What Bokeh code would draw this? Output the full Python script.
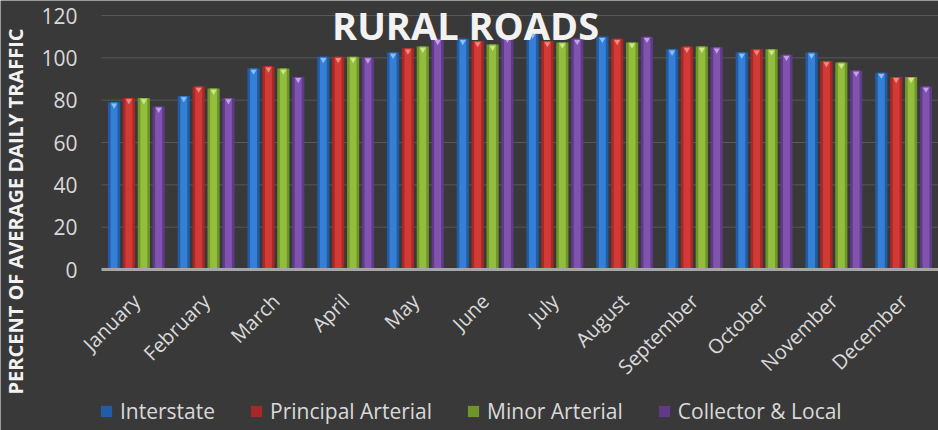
import math
from bokeh.plotting import figure
from bokeh.models import ColumnDataSource, Label, Legend, LegendItem, Range1d, FixedTicker
from bokeh.transform import dodge
from bokeh.embed import file_html
from bokeh.resources import INLINE

months = ["January", "February", "March", "April", "May", "June", "July",
          "August", "September", "October", "November", "December"]
series_names = ["Interstate", "Principal Arterial", "Minor Arterial", "Collector & Local"]
interstate = [79, 82, 95, 100.5, 102.5, 109, 112, 110, 104, 102.5, 102.5, 93]
principal_arterial = [81, 86.5, 96, 100.5, 104.5, 108, 108, 109, 105.3, 104, 98.5, 91]
minor_arterial = [81, 85.5, 95, 100.5, 105.3, 106.3, 107.3, 107.3, 105.3, 104, 97.8, 91]
collector_local = [77, 81, 91, 100.3, 109, 110, 109, 110, 105, 101.5, 94, 86.5]
y_ticks = [0, 20, 40, 60, 80, 100, 120]
month_pos = list(range(len(months)))

edge_colors = ["#235ca6", "#a82828", "#6f9428", "#5f3a88"]
main_colors = ["#3580d6", "#d23a36", "#93bd3c", "#8053ae"]
tip_colors = ["#8cc0f5", "#f08a84", "#cde88a", "#c3a0e8"]
offsets = [-0.32, -0.107, 0.107, 0.32]

src = ColumnDataSource(dict(pos=month_pos, s0=interstate, s1=principal_arterial,
                            s2=minor_arterial, s3=collector_local))
tips = {}
for i, arr in enumerate([interstate, principal_arterial, minor_arterial, collector_local]):
    tips[f"t{i}"] = [v - 1.4 for v in arr]
tip_src = ColumnDataSource(dict(pos=month_pos, **tips))

X_LO, X_HI = -0.5, len(months) - 0.5   # plot-area extent in month units
BG = "#393939"
p = figure(width=938, height=430, x_range=Range1d(-1.948, X_HI),
           y_range=Range1d(-76.06, 127.09), output_backend="svg", toolbar_location=None,
           min_border_left=0, min_border_right=0, min_border_top=0, min_border_bottom=0)
p.background_fill_color = BG
p.border_fill_color = BG
p.outline_line_color = None

# horizontal grid lines limited to the plot area
p.xgrid.visible = False
p.ygrid.visible = False
p.segment(x0=[X_LO] * len(y_ticks), x1=[X_HI] * len(y_ticks), y0=y_ticks, y1=y_ticks,
          line_color="#585858", line_width=1)

legend_items = []
for i in range(4):
    r = p.vbar(x=dodge("pos", offsets[i]), top=f"s{i}", width=0.175,
               source=src, fill_color=edge_colors[i], line_color=None)
    p.vbar(x=dodge("pos", offsets[i]), top=f"s{i}", width=0.10,
           source=src, fill_color=main_colors[i], line_color=None)
    p.scatter(x=dodge("pos", offsets[i]), y=f"t{i}", source=tip_src,
              marker="inverted_triangle", size=6, fill_color=tip_colors[i], line_color=None)
    legend_items.append(LegendItem(label=series_names[i], renderers=[r]))

# y axis
p.yaxis.fixed_location = X_LO
p.yaxis.ticker = FixedTicker(ticks=y_ticks)
p.yaxis.bounds = (0, 120)
p.yaxis.axis_line_color = None
p.yaxis.major_tick_line_color = None
p.yaxis.minor_tick_line_color = None
p.yaxis.major_label_text_font = "Open Sans"
p.yaxis.major_label_text_font_size = "21px"
p.yaxis.major_label_text_color = "#d9d9d9"
p.yaxis.major_label_standoff = 18

# x axis
p.xaxis.fixed_location = 0
p.xaxis.bounds = (X_LO, X_HI)
p.xaxis.ticker = FixedTicker(ticks=month_pos)
p.xaxis.major_label_overrides = {i: m for i, m in zip(month_pos, months)}
p.xaxis.axis_line_color = "#a6a6a6"
p.xaxis.axis_line_width = 3
p.xaxis.major_tick_line_color = None
p.xaxis.minor_tick_line_color = None
p.xaxis.major_label_orientation = math.pi / 4
p.xaxis.major_label_text_font = "Open Sans"
p.xaxis.major_label_text_font_size = "20px"
p.xaxis.major_label_text_color = "#d9d9d9"
p.xaxis.major_label_standoff = 22

legend = Legend(items=legend_items, orientation="horizontal", location=(99, 5),
                background_fill_alpha=0, border_line_color=None, padding=0, margin=0,
                glyph_width=14, glyph_height=14, label_standoff=7, spacing=34,
                label_text_font="Open Sans", label_text_font_size="21px",
                label_text_color="#d9d9d9")
p.add_layout(legend, "center")

title = Label(x=4.72, y=115.7, text="RURAL ROADS", text_font="Open Sans",
              text_font_size="38px", text_font_style="bold", text_color="#f2f2f2",
              text_align="center", text_baseline="alphabetic", level="overlay")
p.add_layout(title)

ylab = Label(x=-1.733, y=27.4, text="PERCENT OF AVERAGE DAILY TRAFFIC",
             text_font="Open Sans", text_font_size="20px", text_font_style="bold",
             text_color="#f2f2f2", angle=math.pi / 2, text_align="center",
             text_baseline="middle")
p.add_layout(ylab)

open("out.html", "w").write(file_html(p, INLINE))
